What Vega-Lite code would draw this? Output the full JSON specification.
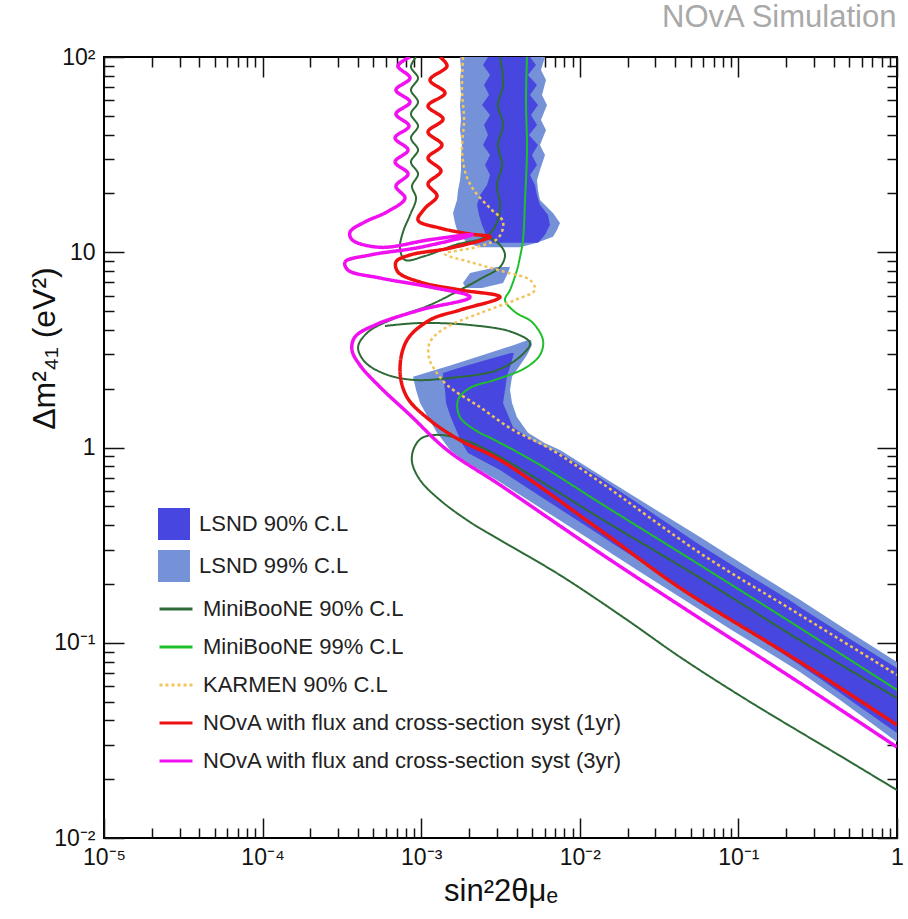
{
"$schema":"https://vega.github.io/schema/vega-lite/v6.json",
"width":793,"height":781,
"autosize":{"type":"none"},
"padding":{"left":104,"top":57,"right":11,"bottom":81},
"background":"#ffffff",
"title":{"text":"NOvA Simulation","anchor":"end","fontSize":31,"font":"Liberation Sans","fontWeight":"normal","color":"#a9a9a9","offset":12,"dx":-7},
"config":{
 "view":{"stroke":"#000","strokeWidth":2},
 "axis":{"grid":false,"domain":false,"zindex":1,"labelFont":"Liberation Sans","titleFont":"Liberation Sans","labelColor":"#111","titleColor":"#111","tickColor":"#111","tickWidth":1.5,"labelFontSize":23,"titleFontWeight":"normal","labelOverlap":false,"labelFlush":false,"labelBound":false},
 "legend":{"labelFont":"Liberation Sans","labelFontSize":22,"labelColor":"#222","padding":0,"labelLimit":0}
},
"datasets":{
"bands":[
{"s":"LSND 99% C.L","g":"A","y":100,"xl":1.757e-3,"xr":6.034e-3},
{"s":"LSND 99% C.L","g":"A","y":85.8,"xl":1.782e-3,"xr":5.692e-3},
{"s":"LSND 99% C.L","g":"A","y":76.2,"xl":1.757e-3,"xr":6.122e-3},
{"s":"LSND 99% C.L","g":"A","y":63.9,"xl":1.782e-3,"xr":5.776e-3},
{"s":"LSND 99% C.L","g":"A","y":56.8,"xl":1.757e-3,"xr":6.212e-3},
{"s":"LSND 99% C.L","g":"A","y":47.6,"xl":1.782e-3,"xr":5.692e-3},
{"s":"LSND 99% C.L","g":"A","y":42.3,"xl":1.757e-3,"xr":6.122e-3},
{"s":"LSND 99% C.L","g":"A","y":35.4,"xl":1.808e-3,"xr":5.610e-3},
{"s":"LSND 99% C.L","g":"A","y":31.5,"xl":1.782e-3,"xr":6.034e-3},
{"s":"LSND 99% C.L","g":"A","y":26.4,"xl":1.782e-3,"xr":5.610e-3},
{"s":"LSND 99% C.L","g":"A","y":23.4,"xl":1.757e-3,"xr":5.372e-3},
{"s":"LSND 99% C.L","g":"A","y":20.8,"xl":1.706e-3,"xr":5.451e-3},
{"s":"LSND 99% C.L","g":"A","y":18.5,"xl":1.682e-3,"xr":5.610e-3},
{"s":"LSND 99% C.L","g":"A","y":15.9,"xl":1.587e-3,"xr":6.776e-3},
{"s":"LSND 99% C.L","g":"A","y":14.1,"xl":1.634e-3,"xr":7.503e-3},
{"s":"LSND 99% C.L","g":"A","y":13.0,"xl":1.682e-3,"xr":7.181e-3},
{"s":"LSND 99% C.L","g":"A","y":12.0,"xl":1.808e-3,"xr":6.776e-3},
{"s":"LSND 99% C.L","g":"A","y":11.2,"xl":1.945e-3,"xr":5.372e-3},
{"s":"LSND 99% C.L","g":"A","y":10.6,"xl":2.348e-3,"xr":4.198e-3},
{"s":"LSND 99% C.L","g":"B","y":8.40,"xl":3.006e-3,"xr":3.631e-3},
{"s":"LSND 99% C.L","g":"B","y":7.83,"xl":2.031e-3,"xr":3.526e-3},
{"s":"LSND 99% C.L","g":"B","y":6.96,"xl":1.834e-3,"xr":3.280e-3},
{"s":"LSND 99% C.L","g":"B","y":6.56,"xl":1.917e-3,"xr":2.418e-3},
{"s":"LSND 99% C.L","g":"C","y":3.55,"xl":4.714e-3,"xr":4.924e-3},
{"s":"LSND 99% C.L","g":"C","y":3.35,"xl":3.848e-3,"xr":4.995e-3},
{"s":"LSND 99% C.L","g":"C","y":2.98,"xl":2.453e-3,"xr":4.646e-3},
{"s":"LSND 99% C.L","g":"C","y":2.64,"xl":1.541e-3,"xr":4.198e-3},
{"s":"LSND 99% C.L","g":"C","y":2.30,"xl":8.88e-4,"xr":3.738e-3},
{"s":"LSND 99% C.L","g":"C","y":1.97,"xl":9.28e-4,"xr":3.631e-3},
{"s":"LSND 99% C.L","g":"C","y":1.69,"xl":9.83e-4,"xr":3.738e-3},
{"s":"LSND 99% C.L","g":"C","y":1.43,"xl":1.104e-3,"xr":4.018e-3},
{"s":"LSND 99% C.L","g":"C","y":1.19,"xl":1.258e-3,"xr":4.714e-3},
{"s":"LSND 99% C.L","g":"C","y":1.05,"xl":1.413e-3,"xr":6.034e-3},
{"s":"LSND 99% C.L","g":"C","y":0.971,"xl":1.519e-3,"xr":7.503e-3},
{"s":"LSND 99% C.L","g":"C","y":0.863,"xl":1.834e-3,"xr":9.46e-3},
{"s":"LSND 99% C.L","g":"C","y":0.666,"xl":3.140e-3,"xr":1.573e-2},
{"s":"LSND 99% C.L","g":"C","y":0.538,"xl":4.714e-3,"xr":2.397e-2},
{"s":"LSND 99% C.L","g":"C","y":0.348,"xl":1.094e-2,"xr":5.727e-2},
{"s":"LSND 99% C.L","g":"C","y":0.236,"xl":2.295e-2,"xr":0.1218},
{"s":"LSND 99% C.L","g":"C","y":0.166,"xl":4.539e-2,"xr":0.2445},
{"s":"LSND 99% C.L","g":"C","y":0.116,"xl":9.11e-2,"xr":0.4838},
{"s":"LSND 99% C.L","g":"C","y":0.0797,"xl":0.1939,"xr":1},
{"s":"LSND 99% C.L","g":"C","y":0.0708,"xl":0.2445,"xr":2},
{"s":"LSND 99% C.L","g":"C","y":0.0509,"xl":0.4371,"xr":2},
{"s":"LSND 99% C.L","g":"C","y":0.0310,"xl":1,"xr":2},
{"s":"LSND 90% C.L","g":"A","y":100,"xl":2.638e-3,"xr":4.853e-3},
{"s":"LSND 90% C.L","g":"A","y":91.0,"xl":2.453e-3,"xr":5.294e-3},
{"s":"LSND 90% C.L","g":"A","y":80.9,"xl":2.716e-3,"xr":4.714e-3},
{"s":"LSND 90% C.L","g":"A","y":71.9,"xl":2.489e-3,"xr":5.372e-3},
{"s":"LSND 90% C.L","g":"A","y":63.9,"xl":2.677e-3,"xr":4.853e-3},
{"s":"LSND 90% C.L","g":"A","y":56.8,"xl":2.418e-3,"xr":5.451e-3},
{"s":"LSND 90% C.L","g":"A","y":50.5,"xl":2.716e-3,"xr":4.924e-3},
{"s":"LSND 90% C.L","g":"A","y":44.9,"xl":2.489e-3,"xr":5.372e-3},
{"s":"LSND 90% C.L","g":"A","y":39.8,"xl":2.638e-3,"xr":4.783e-3},
{"s":"LSND 90% C.L","g":"A","y":35.4,"xl":2.453e-3,"xr":5.451e-3},
{"s":"LSND 90% C.L","g":"A","y":31.5,"xl":2.716e-3,"xr":4.995e-3},
{"s":"LSND 90% C.L","g":"A","y":28.0,"xl":2.526e-3,"xr":5.372e-3},
{"s":"LSND 90% C.L","g":"A","y":24.9,"xl":2.716e-3,"xr":4.853e-3},
{"s":"LSND 90% C.L","g":"A","y":22.1,"xl":2.600e-3,"xr":5.218e-3},
{"s":"LSND 90% C.L","g":"A","y":19.6,"xl":2.348e-3,"xr":5.372e-3},
{"s":"LSND 90% C.L","g":"A","y":17.5,"xl":2.248e-3,"xr":5.610e-3},
{"s":"LSND 90% C.L","g":"A","y":15.5,"xl":2.314e-3,"xr":6.303e-3},
{"s":"LSND 90% C.L","g":"A","y":13.8,"xl":2.418e-3,"xr":6.488e-3},
{"s":"LSND 90% C.L","g":"A","y":12.3,"xl":2.563e-3,"xr":6.034e-3},
{"s":"LSND 90% C.L","g":"A","y":11.2,"xl":2.795e-3,"xr":5.451e-3},
{"s":"LSND 90% C.L","g":"C","y":3.05,"xl":3.684e-3,"xr":3.848e-3},
{"s":"LSND 90% C.L","g":"C","y":2.81,"xl":2.563e-3,"xr":3.738e-3},
{"s":"LSND 90% C.L","g":"C","y":2.58,"xl":1.782e-3,"xr":3.631e-3},
{"s":"LSND 90% C.L","g":"C","y":2.41,"xl":1.373e-3,"xr":3.526e-3},
{"s":"LSND 90% C.L","g":"C","y":2.30,"xl":1.373e-3,"xr":3.475e-3},
{"s":"LSND 90% C.L","g":"C","y":1.97,"xl":1.413e-3,"xr":3.377e-3},
{"s":"LSND 90% C.L","g":"C","y":1.69,"xl":1.434e-3,"xr":3.280e-3},
{"s":"LSND 90% C.L","g":"C","y":1.467,"xl":1.519e-3,"xr":3.526e-3},
{"s":"LSND 90% C.L","g":"C","y":1.27,"xl":1.634e-3,"xr":3.793e-3},
{"s":"LSND 90% C.L","g":"C","y":1.05,"xl":1.808e-3,"xr":5.372e-3},
{"s":"LSND 90% C.L","g":"C","y":0.937,"xl":1.973e-3,"xr":7.503e-3},
{"s":"LSND 90% C.L","g":"C","y":0.767,"xl":3.140e-3,"xr":1.110e-2},
{"s":"LSND 90% C.L","g":"C","y":0.698,"xl":3.738e-3,"xr":1.341e-2},
{"s":"LSND 90% C.L","g":"C","y":0.538,"xl":6.122e-3,"xr":2.165e-2},
{"s":"LSND 90% C.L","g":"C","y":0.356,"xl":1.341e-2,"xr":4.606e-2},
{"s":"LSND 90% C.L","g":"C","y":0.317,"xl":1.667e-2,"xr":5.727e-2},
{"s":"LSND 90% C.L","g":"C","y":0.236,"xl":2.937e-2,"xr":0.1023},
{"s":"LSND 90% C.L","g":"C","y":0.166,"xl":5.727e-2,"xr":0.2084},
{"s":"LSND 90% C.L","g":"C","y":0.152,"xl":6.72e-2,"xr":0.2445},
{"s":"LSND 90% C.L","g":"C","y":0.103,"xl":0.1409,"xr":0.5203},
{"s":"LSND 90% C.L","g":"C","y":0.0769,"xl":0.2445,"xr":0.9301},
{"s":"LSND 90% C.L","g":"C","y":0.0742,"xl":0.2592,"xr":1},
{"s":"LSND 90% C.L","g":"C","y":0.0645,"xl":0.3366,"xr":2},
{"s":"LSND 90% C.L","g":"C","y":0.0509,"xl":0.5053,"xr":2},
{"s":"LSND 90% C.L","g":"C","y":0.0345,"xl":1,"xr":2}
],
"lines":[
{"s":"MiniBooNE 90% C.L","p":"d1","i":1,"x":9.28e-4,"y":100},
{"s":"MiniBooNE 90% C.L","p":"d1","i":2,"x":8.62e-4,"y":88.9},
{"s":"MiniBooNE 90% C.L","p":"d1","i":3,"x":9.55e-4,"y":78.0},
{"s":"MiniBooNE 90% C.L","p":"d1","i":4,"x":8.62e-4,"y":67.8},
{"s":"MiniBooNE 90% C.L","p":"d1","i":5,"x":9.55e-4,"y":58.8},
{"s":"MiniBooNE 90% C.L","p":"d1","i":6,"x":8.62e-4,"y":51.1},
{"s":"MiniBooNE 90% C.L","p":"d1","i":7,"x":9.55e-4,"y":44.3},
{"s":"MiniBooNE 90% C.L","p":"d1","i":8,"x":8.62e-4,"y":38.5},
{"s":"MiniBooNE 90% C.L","p":"d1","i":9,"x":9.55e-4,"y":33.4},
{"s":"MiniBooNE 90% C.L","p":"d1","i":10,"x":8.62e-4,"y":29.0},
{"s":"MiniBooNE 90% C.L","p":"d1","i":11,"x":9.55e-4,"y":25.2},
{"s":"MiniBooNE 90% C.L","p":"d1","i":12,"x":8.75e-4,"y":21.8},
{"s":"MiniBooNE 90% C.L","p":"d1","i":13,"x":9.28e-4,"y":18.9},
{"s":"MiniBooNE 90% C.L","p":"d1","i":14,"x":8.50e-4,"y":15.5},
{"s":"MiniBooNE 90% C.L","p":"d1","i":15,"x":7.68e-4,"y":12.7},
{"s":"MiniBooNE 90% C.L","p":"d1","i":16,"x":7.35e-4,"y":10.5},
{"s":"MiniBooNE 90% C.L","p":"d1","i":17,"x":7.90e-4,"y":9.13},
{"s":"MiniBooNE 90% C.L","p":"d1","i":18,"x":1.057e-3,"y":9.57},
{"s":"MiniBooNE 90% C.L","p":"d1","i":19,"x":1.634e-3,"y":10.9},
{"s":"MiniBooNE 90% C.L","p":"d1","i":20,"x":2.600e-3,"y":12.1},
{"s":"MiniBooNE 90% C.L","p":"d1","i":21,"x":3.006e-3,"y":14.3},
{"s":"MiniBooNE 90% C.L","p":"d1","i":22,"x":3.140e-3,"y":17.5},
{"s":"MiniBooNE 90% C.L","p":"d1","i":23,"x":3.006e-3,"y":22.1},
{"s":"MiniBooNE 90% C.L","p":"d1","i":24,"x":3.232e-3,"y":28.0},
{"s":"MiniBooNE 90% C.L","p":"d1","i":25,"x":3.050e-3,"y":35.4},
{"s":"MiniBooNE 90% C.L","p":"d1","i":26,"x":3.280e-3,"y":44.9},
{"s":"MiniBooNE 90% C.L","p":"d1","i":27,"x":3.050e-3,"y":56.8},
{"s":"MiniBooNE 90% C.L","p":"d1","i":28,"x":3.280e-3,"y":71.9},
{"s":"MiniBooNE 90% C.L","p":"d1","i":29,"x":3.140e-3,"y":100},
{"s":"MiniBooNE 90% C.L","p":"d2","i":1,"x":2.600e-3,"y":12.1},
{"s":"MiniBooNE 90% C.L","p":"d2","i":2,"x":3.140e-3,"y":10.9},
{"s":"MiniBooNE 90% C.L","p":"d2","i":3,"x":3.377e-3,"y":9.68},
{"s":"MiniBooNE 90% C.L","p":"d2","i":4,"x":3.140e-3,"y":8.40},
{"s":"MiniBooNE 90% C.L","p":"d2","i":5,"x":2.418e-3,"y":7.38},
{"s":"MiniBooNE 90% C.L","p":"d2","i":6,"x":1.757e-3,"y":6.41},
{"s":"MiniBooNE 90% C.L","p":"d2","i":7,"x":1.136e-3,"y":5.37},
{"s":"MiniBooNE 90% C.L","p":"d2","i":8,"x":6.84e-4,"y":4.60},
{"s":"MiniBooNE 90% C.L","p":"d2","i":9,"x":4.62e-4,"y":3.90},
{"s":"MiniBooNE 90% C.L","p":"d2","i":10,"x":4.00e-4,"y":3.27},
{"s":"MiniBooNE 90% C.L","p":"d2","i":11,"x":4.42e-4,"y":2.74},
{"s":"MiniBooNE 90% C.L","p":"d2","i":12,"x":5.91e-4,"y":2.38},
{"s":"MiniBooNE 90% C.L","p":"d2","i":13,"x":8.88e-4,"y":2.22},
{"s":"MiniBooNE 90% C.L","p":"d2","i":14,"x":1.519e-3,"y":2.27},
{"s":"MiniBooNE 90% C.L","p":"d2","i":15,"x":3.006e-3,"y":2.49},
{"s":"MiniBooNE 90% C.L","p":"d2","i":16,"x":4.322e-3,"y":2.98},
{"s":"MiniBooNE 90% C.L","p":"d2","i":17,"x":4.853e-3,"y":3.43},
{"s":"MiniBooNE 90% C.L","p":"d2","i":18,"x":3.738e-3,"y":3.90},
{"s":"MiniBooNE 90% C.L","p":"d2","i":19,"x":2.031e-3,"y":4.24},
{"s":"MiniBooNE 90% C.L","p":"d2","i":20,"x":9.83e-4,"y":4.34},
{"s":"MiniBooNE 90% C.L","p":"d2","i":21,"x":5.91e-4,"y":4.19},
{"s":"MiniBooNE 90% C.L","p":"d3","i":1,"x":1,"y":0.0521},
{"s":"MiniBooNE 90% C.L","p":"d3","i":2,"x":0.2445,"y":0.103},
{"s":"MiniBooNE 90% C.L","p":"d3","i":3,"x":5.727e-2,"y":0.215},
{"s":"MiniBooNE 90% C.L","p":"d3","i":4,"x":1.341e-2,"y":0.435},
{"s":"MiniBooNE 90% C.L","p":"d3","i":5,"x":6.488e-3,"y":0.628},
{"s":"MiniBooNE 90% C.L","p":"d3","i":6,"x":3.140e-3,"y":0.894},
{"s":"MiniBooNE 90% C.L","p":"d3","i":7,"x":2.031e-3,"y":1.067},
{"s":"MiniBooNE 90% C.L","p":"d3","i":8,"x":1.314e-3,"y":1.16},
{"s":"MiniBooNE 90% C.L","p":"d3","i":9,"x":1.012e-3,"y":1.12},
{"s":"MiniBooNE 90% C.L","p":"d3","i":10,"x":9.01e-4,"y":0.994},
{"s":"MiniBooNE 90% C.L","p":"d3","i":11,"x":8.75e-4,"y":0.843},
{"s":"MiniBooNE 90% C.L","p":"d3","i":12,"x":9.83e-4,"y":0.682},
{"s":"MiniBooNE 90% C.L","p":"d3","i":13,"x":1.314e-3,"y":0.538},
{"s":"MiniBooNE 90% C.L","p":"d3","i":14,"x":2.031e-3,"y":0.415},
{"s":"MiniBooNE 90% C.L","p":"d3","i":15,"x":3.140e-3,"y":0.336},
{"s":"MiniBooNE 90% C.L","p":"d3","i":16,"x":7.503e-3,"y":0.222},
{"s":"MiniBooNE 90% C.L","p":"d3","i":17,"x":1.985e-2,"y":0.131},
{"s":"MiniBooNE 90% C.L","p":"d3","i":18,"x":4.282e-2,"y":0.0845},
{"s":"MiniBooNE 90% C.L","p":"d3","i":19,"x":0.1133,"y":0.0509},
{"s":"MiniBooNE 90% C.L","p":"d3","i":20,"x":0.4838,"y":0.0251},
{"s":"MiniBooNE 90% C.L","p":"d3","i":21,"x":1,"y":0.0176},
{"s":"MiniBooNE 99% C.L","p":"g","i":1,"x":4.646e-3,"y":100},
{"s":"MiniBooNE 99% C.L","p":"g","i":2,"x":4.579e-3,"y":60.2},
{"s":"MiniBooNE 99% C.L","p":"g","i":3,"x":4.646e-3,"y":33.4},
{"s":"MiniBooNE 99% C.L","p":"g","i":4,"x":4.514e-3,"y":18.5},
{"s":"MiniBooNE 99% C.L","p":"g","i":5,"x":4.385e-3,"y":11.6},
{"s":"MiniBooNE 99% C.L","p":"g","i":6,"x":4.198e-3,"y":9.46},
{"s":"MiniBooNE 99% C.L","p":"g","i":7,"x":4.018e-3,"y":8.11},
{"s":"MiniBooNE 99% C.L","p":"g","i":8,"x":3.631e-3,"y":6.41},
{"s":"MiniBooNE 99% C.L","p":"g","i":9,"x":3.377e-3,"y":5.69},
{"s":"MiniBooNE 99% C.L","p":"g","i":10,"x":3.904e-3,"y":4.94},
{"s":"MiniBooNE 99% C.L","p":"g","i":11,"x":4.995e-3,"y":4.39},
{"s":"MiniBooNE 99% C.L","p":"g","i":12,"x":5.861e-3,"y":3.55},
{"s":"MiniBooNE 99% C.L","p":"g","i":13,"x":5.610e-3,"y":2.98},
{"s":"MiniBooNE 99% C.L","p":"g","i":14,"x":4.514e-3,"y":2.55},
{"s":"MiniBooNE 99% C.L","p":"g","i":15,"x":2.920e-3,"y":2.22},
{"s":"MiniBooNE 99% C.L","p":"g","i":16,"x":2.031e-3,"y":2.02},
{"s":"MiniBooNE 99% C.L","p":"g","i":17,"x":1.706e-3,"y":1.75},
{"s":"MiniBooNE 99% C.L","p":"g","i":18,"x":1.757e-3,"y":1.43},
{"s":"MiniBooNE 99% C.L","p":"g","i":19,"x":2.184e-3,"y":1.23},
{"s":"MiniBooNE 99% C.L","p":"g","i":20,"x":2.920e-3,"y":1.09},
{"s":"MiniBooNE 99% C.L","p":"g","i":21,"x":5.610e-3,"y":0.814},
{"s":"MiniBooNE 99% C.L","p":"g","i":22,"x":1.341e-2,"y":0.520},
{"s":"MiniBooNE 99% C.L","p":"g","i":23,"x":5.727e-2,"y":0.250},
{"s":"MiniBooNE 99% C.L","p":"g","i":24,"x":0.2445,"y":0.119},
{"s":"MiniBooNE 99% C.L","p":"g","i":25,"x":1,"y":0.0573},
{"s":"KARMEN 90% C.L","p":"k","i":1,"x":1.834e-3,"y":100},
{"s":"KARMEN 90% C.L","p":"k","i":2,"x":1.808e-3,"y":67.8},
{"s":"KARMEN 90% C.L","p":"k","i":3,"x":1.862e-3,"y":47.6},
{"s":"KARMEN 90% C.L","p":"k","i":4,"x":1.808e-3,"y":33.4},
{"s":"KARMEN 90% C.L","p":"k","i":5,"x":1.917e-3,"y":24.9},
{"s":"KARMEN 90% C.L","p":"k","i":6,"x":2.184e-3,"y":20.4},
{"s":"KARMEN 90% C.L","p":"k","i":7,"x":2.716e-3,"y":16.8},
{"s":"KARMEN 90% C.L","p":"k","i":8,"x":3.280e-3,"y":14.3},
{"s":"KARMEN 90% C.L","p":"k","i":9,"x":3.050e-3,"y":11.8},
{"s":"KARMEN 90% C.L","p":"k","i":10,"x":2.184e-3,"y":10.6},
{"s":"KARMEN 90% C.L","p":"k","i":11,"x":1.413e-3,"y":9.80},
{"s":"KARMEN 90% C.L","p":"k","i":12,"x":2.031e-3,"y":8.92},
{"s":"KARMEN 90% C.L","p":"k","i":13,"x":3.377e-3,"y":7.92},
{"s":"KARMEN 90% C.L","p":"k","i":14,"x":4.853e-3,"y":7.21},
{"s":"KARMEN 90% C.L","p":"k","i":15,"x":5.218e-3,"y":6.41},
{"s":"KARMEN 90% C.L","p":"k","i":16,"x":3.904e-3,"y":5.69},
{"s":"KARMEN 90% C.L","p":"k","i":17,"x":2.348e-3,"y":4.88},
{"s":"KARMEN 90% C.L","p":"k","i":18,"x":1.413e-3,"y":4.09},
{"s":"KARMEN 90% C.L","p":"k","i":19,"x":1.136e-3,"y":3.47},
{"s":"KARMEN 90% C.L","p":"k","i":20,"x":1.120e-3,"y":2.87},
{"s":"KARMEN 90% C.L","p":"k","i":21,"x":1.222e-3,"y":2.49},
{"s":"KARMEN 90% C.L","p":"k","i":22,"x":1.455e-3,"y":2.09},
{"s":"KARMEN 90% C.L","p":"k","i":23,"x":2.348e-3,"y":1.61},
{"s":"KARMEN 90% C.L","p":"k","i":24,"x":3.793e-3,"y":1.23},
{"s":"KARMEN 90% C.L","p":"k","i":25,"x":6.212e-3,"y":1.006},
{"s":"KARMEN 90% C.L","p":"k","i":26,"x":1.341e-2,"y":0.666},
{"s":"KARMEN 90% C.L","p":"k","i":27,"x":5.727e-2,"y":0.288},
{"s":"KARMEN 90% C.L","p":"k","i":28,"x":0.2445,"y":0.139},
{"s":"KARMEN 90% C.L","p":"k","i":29,"x":1,"y":0.0684},
{"s":"NOvA with flux and cross-section syst (1yr)","p":"r","i":1,"x":1.314e-3,"y":100},
{"s":"NOvA with flux and cross-section syst (1yr)","p":"r","i":2,"x":1.455e-3,"y":89.9},
{"s":"NOvA with flux and cross-section syst (1yr)","p":"r","i":3,"x":1.136e-3,"y":76.2},
{"s":"NOvA with flux and cross-section syst (1yr)","p":"r","i":4,"x":1.413e-3,"y":65.4},
{"s":"NOvA with flux and cross-section syst (1yr)","p":"r","i":5,"x":1.104e-3,"y":56.1},
{"s":"NOvA with flux and cross-section syst (1yr)","p":"r","i":6,"x":1.373e-3,"y":48.1},
{"s":"NOvA with flux and cross-section syst (1yr)","p":"r","i":7,"x":1.104e-3,"y":41.3},
{"s":"NOvA with flux and cross-section syst (1yr)","p":"r","i":8,"x":1.352e-3,"y":35.4},
{"s":"NOvA with flux and cross-section syst (1yr)","p":"r","i":9,"x":1.104e-3,"y":30.4},
{"s":"NOvA with flux and cross-section syst (1yr)","p":"r","i":10,"x":1.333e-3,"y":26.1},
{"s":"NOvA with flux and cross-section syst (1yr)","p":"r","i":11,"x":1.104e-3,"y":22.4},
{"s":"NOvA with flux and cross-section syst (1yr)","p":"r","i":12,"x":1.258e-3,"y":19.4},
{"s":"NOvA with flux and cross-section syst (1yr)","p":"r","i":13,"x":1.057e-3,"y":16.8},
{"s":"NOvA with flux and cross-section syst (1yr)","p":"r","i":14,"x":9.55e-4,"y":14.6},
{"s":"NOvA with flux and cross-section syst (1yr)","p":"r","i":15,"x":1.314e-3,"y":13.3},
{"s":"NOvA with flux and cross-section syst (1yr)","p":"r","i":16,"x":2.031e-3,"y":12.4},
{"s":"NOvA with flux and cross-section syst (1yr)","p":"r","i":17,"x":2.716e-3,"y":12.0},
{"s":"NOvA with flux and cross-section syst (1yr)","p":"r","i":18,"x":1.519e-3,"y":10.5},
{"s":"NOvA with flux and cross-section syst (1yr)","p":"r","i":19,"x":8.50e-4,"y":9.68},
{"s":"NOvA with flux and cross-section syst (1yr)","p":"r","i":20,"x":6.93e-4,"y":8.92},
{"s":"NOvA with flux and cross-section syst (1yr)","p":"r","i":21,"x":7.14e-4,"y":7.92},
{"s":"NOvA with flux and cross-section syst (1yr)","p":"r","i":22,"x":9.83e-4,"y":7.04},
{"s":"NOvA with flux and cross-section syst (1yr)","p":"r","i":23,"x":1.757e-3,"y":6.41},
{"s":"NOvA with flux and cross-section syst (1yr)","p":"r","i":24,"x":3.140e-3,"y":5.90},
{"s":"NOvA with flux and cross-section syst (1yr)","p":"r","i":25,"x":1.757e-3,"y":5.06},
{"s":"NOvA with flux and cross-section syst (1yr)","p":"r","i":26,"x":1.136e-3,"y":4.50},
{"s":"NOvA with flux and cross-section syst (1yr)","p":"r","i":27,"x":8.14e-4,"y":3.55},
{"s":"NOvA with flux and cross-section syst (1yr)","p":"r","i":28,"x":7.35e-4,"y":2.49},
{"s":"NOvA with flux and cross-section syst (1yr)","p":"r","i":29,"x":8.14e-4,"y":1.81},
{"s":"NOvA with flux and cross-section syst (1yr)","p":"r","i":30,"x":1.136e-3,"y":1.38},
{"s":"NOvA with flux and cross-section syst (1yr)","p":"r","i":31,"x":1.757e-3,"y":1.09},
{"s":"NOvA with flux and cross-section syst (1yr)","p":"r","i":32,"x":3.140e-3,"y":0.863},
{"s":"NOvA with flux and cross-section syst (1yr)","p":"r","i":33,"x":1.341e-2,"y":0.378},
{"s":"NOvA with flux and cross-section syst (1yr)","p":"r","i":34,"x":4.282e-2,"y":0.191},
{"s":"NOvA with flux and cross-section syst (1yr)","p":"r","i":35,"x":0.2445,"y":0.0797},
{"s":"NOvA with flux and cross-section syst (1yr)","p":"r","i":36,"x":1,"y":0.0379},
{"s":"NOvA with flux and cross-section syst (3yr)","p":"m","i":1,"x":8.50e-4,"y":100},
{"s":"NOvA with flux and cross-section syst (3yr)","p":"m","i":2,"x":7.14e-4,"y":89.9},
{"s":"NOvA with flux and cross-section syst (3yr)","p":"m","i":3,"x":8.50e-4,"y":78.0},
{"s":"NOvA with flux and cross-section syst (3yr)","p":"m","i":4,"x":6.93e-4,"y":67.8},
{"s":"NOvA with flux and cross-section syst (3yr)","p":"m","i":5,"x":8.50e-4,"y":58.8},
{"s":"NOvA with flux and cross-section syst (3yr)","p":"m","i":6,"x":6.93e-4,"y":51.1},
{"s":"NOvA with flux and cross-section syst (3yr)","p":"m","i":7,"x":8.38e-4,"y":44.3},
{"s":"NOvA with flux and cross-section syst (3yr)","p":"m","i":8,"x":6.84e-4,"y":38.5},
{"s":"NOvA with flux and cross-section syst (3yr)","p":"m","i":9,"x":8.26e-4,"y":33.4},
{"s":"NOvA with flux and cross-section syst (3yr)","p":"m","i":10,"x":6.84e-4,"y":29.0},
{"s":"NOvA with flux and cross-section syst (3yr)","p":"m","i":11,"x":8.26e-4,"y":25.2},
{"s":"NOvA with flux and cross-section syst (3yr)","p":"m","i":12,"x":6.93e-4,"y":21.8},
{"s":"NOvA with flux and cross-section syst (3yr)","p":"m","i":13,"x":7.90e-4,"y":18.9},
{"s":"NOvA with flux and cross-section syst (3yr)","p":"m","i":14,"x":6.09e-4,"y":16.1},
{"s":"NOvA with flux and cross-section syst (3yr)","p":"m","i":15,"x":4.42e-4,"y":14.3},
{"s":"NOvA with flux and cross-section syst (3yr)","p":"m","i":16,"x":3.56e-4,"y":12.7},
{"s":"NOvA with flux and cross-section syst (3yr)","p":"m","i":17,"x":3.66e-4,"y":11.6},
{"s":"NOvA with flux and cross-section syst (3yr)","p":"m","i":18,"x":5.50e-4,"y":10.6},
{"s":"NOvA with flux and cross-section syst (3yr)","p":"m","i":19,"x":1.136e-3,"y":11.6},
{"s":"NOvA with flux and cross-section syst (3yr)","p":"m","i":20,"x":2.091e-3,"y":12.3},
{"s":"NOvA with flux and cross-section syst (3yr)","p":"m","i":21,"x":9.83e-4,"y":10.6},
{"s":"NOvA with flux and cross-section syst (3yr)","p":"m","i":22,"x":4.75e-4,"y":9.68},
{"s":"NOvA with flux and cross-section syst (3yr)","p":"m","i":23,"x":3.31e-4,"y":8.92},
{"s":"NOvA with flux and cross-section syst (3yr)","p":"m","i":24,"x":3.45e-4,"y":8.11},
{"s":"NOvA with flux and cross-section syst (3yr)","p":"m","i":25,"x":5.50e-4,"y":7.38},
{"s":"NOvA with flux and cross-section syst (3yr)","p":"m","i":26,"x":1.136e-3,"y":6.64},
{"s":"NOvA with flux and cross-section syst (3yr)","p":"m","i":27,"x":2.031e-3,"y":5.90},
{"s":"NOvA with flux and cross-section syst (3yr)","p":"m","i":28,"x":9.83e-4,"y":5.06},
{"s":"NOvA with flux and cross-section syst (3yr)","p":"m","i":29,"x":5.11e-4,"y":4.24},
{"s":"NOvA with flux and cross-section syst (3yr)","p":"m","i":30,"x":3.82e-4,"y":3.68},
{"s":"NOvA with flux and cross-section syst (3yr)","p":"m","i":31,"x":3.66e-4,"y":3.16},
{"s":"NOvA with flux and cross-section syst (3yr)","p":"m","i":32,"x":4.11e-4,"y":2.64},
{"s":"NOvA with flux and cross-section syst (3yr)","p":"m","i":33,"x":5.50e-4,"y":2.04},
{"s":"NOvA with flux and cross-section syst (3yr)","p":"m","i":34,"x":8.50e-4,"y":1.467},
{"s":"NOvA with flux and cross-section syst (3yr)","p":"m","i":35,"x":1.455e-3,"y":0.971},
{"s":"NOvA with flux and cross-section syst (3yr)","p":"m","i":36,"x":3.140e-3,"y":0.643},
{"s":"NOvA with flux and cross-section syst (3yr)","p":"m","i":37,"x":1.341e-2,"y":0.288},
{"s":"NOvA with flux and cross-section syst (3yr)","p":"m","i":38,"x":5.727e-2,"y":0.133},
{"s":"NOvA with flux and cross-section syst (3yr)","p":"m","i":39,"x":0.2445,"y":0.0622},
{"s":"NOvA with flux and cross-section syst (3yr)","p":"m","i":40,"x":1,"y":0.0292}
]
},
"layer":[
{"data":{"name":"bands"},"transform":[{"filter":"datum.s === 'LSND 99% C.L'"}],
 "mark":{"type":"area","orient":"horizontal","clip":true,"opacity":1},
 "encoding":{
  "y":{"field":"y","type":"quantitative","scale":{"type":"log","domain":[0.01,100],"nice":false},
   "axis":{"orient":"left","values":[0.01,0.1,1,10,100],"ticks":false,
    "labelExpr":"['10⁻²','10⁻¹','1','10','10²'][round(log(datum.value)/LN10)+2]",
    "labelPadding":9,"title":"Δm²₄₁ (eV²)","titleFontSize":32,"titleX":-50,"titleY":291,"titleAngle":-90,"titleAlign":"center","titleBaseline":"alphabetic"}},
  "x":{"field":"xl","type":"quantitative","scale":{"type":"log","domain":[0.00001,1],"nice":false},
   "axis":{"orient":"bottom","values":[0.00001,0.0001,0.001,0.01,0.1,1],"ticks":false,
    "labelExpr":"['10⁻⁵','10⁻⁴','10⁻³','10⁻²','10⁻¹','1'][round(log(datum.value)/LN10)+5]",
    "labelPadding":8,"title":"sin²2θμₑ","titleFontSize":31,"titleY":62,"titleBaseline":"alphabetic"}},
  "x2":{"field":"xr"},
  "fill":{"field":"s","type":"nominal","scale":{"domain":["LSND 90% C.L","LSND 99% C.L"],"range":["#4747e0","#7592d8"]},
   "legend":{"orient":"none","legendX":54,"legendY":451,"title":null,"symbolType":"square","symbolSize":1024,"symbolStrokeWidth":0,"symbolOpacity":1,"labelOffset":9,"rowPadding":10,"labelFontSize":22,"labelLimit":0}},
  "detail":{"field":"g"}
 }},
{"data":{"name":"bands"},"transform":[{"filter":"datum.s === 'LSND 90% C.L'"}],
 "mark":{"type":"area","orient":"horizontal","clip":true,"opacity":1},
 "encoding":{
  "y":{"field":"y","type":"quantitative","scale":{"type":"log","domain":[0.01,100],"nice":false},
   "axis":{"orient":"right","offset":-793,"values":[0.01,0.02,0.03,0.04,0.05,0.06,0.07,0.08,0.09,0.1,0.2,0.3,0.4,0.5,0.6,0.7,0.8,0.9,1,2,3,4,5,6,7,8,9,10,20,30,40,50,60,70,80,90,100],
    "labels":false,"title":null,
    "tickSize":{"condition":{"test":"abs(log(datum.value)/LN10-round(log(datum.value)/LN10))<0.01","value":20},"value":10}}},
  "x":{"field":"xl","type":"quantitative","scale":{"type":"log","domain":[0.00001,1],"nice":false},
   "axis":{"orient":"top","offset":-781,"values":[0.00001,0.00002,0.00003,0.00004,0.00005,0.00006,0.00007,0.00008,0.00009,0.0001,0.0002,0.0003,0.0004,0.0005,0.0006,0.0007,0.0008,0.0009,0.001,0.002,0.003,0.004,0.005,0.006,0.007,0.008,0.009,0.01,0.02,0.03,0.04,0.05,0.06,0.07,0.08,0.09,0.1,0.2,0.3,0.4,0.5,0.6,0.7,0.8,0.9,1],
    "labels":false,"title":null,
    "tickSize":{"condition":{"test":"abs(log(datum.value)/LN10-round(log(datum.value)/LN10))<0.01","value":20},"value":10}}},
  "x2":{"field":"xr"},
  "fill":{"field":"s","type":"nominal","scale":{"domain":["LSND 90% C.L","LSND 99% C.L"],"range":["#4747e0","#7592d8"]},
   "legend":{"orient":"none","legendX":54,"legendY":451,"title":null,"symbolType":"square","symbolSize":1024,"symbolStrokeWidth":0,"symbolOpacity":1,"labelOffset":9,"rowPadding":10,"labelFontSize":22,"labelLimit":0}},
  "detail":{"field":"g"}
 }},
{"data":{"name":"lines"},"transform":[{"filter":"indexof(datum.s,'MiniBooNE') === 0"}],
 "mark":{"type":"line","clip":true,"strokeWidth":2,"interpolate":"catmull-rom"},
 "encoding":{
  "x":{"field":"x","type":"quantitative","scale":{"type":"log","domain":[0.00001,1],"nice":false},
   "axis":{"orient":"bottom","offset":-781,"values":[0.00001,0.00002,0.00003,0.00004,0.00005,0.00006,0.00007,0.00008,0.00009,0.0001,0.0002,0.0003,0.0004,0.0005,0.0006,0.0007,0.0008,0.0009,0.001,0.002,0.003,0.004,0.005,0.006,0.007,0.008,0.009,0.01,0.02,0.03,0.04,0.05,0.06,0.07,0.08,0.09,0.1,0.2,0.3,0.4,0.5,0.6,0.7,0.8,0.9,1],
    "labels":false,"title":null,
    "tickSize":{"condition":{"test":"abs(log(datum.value)/LN10-round(log(datum.value)/LN10))<0.01","value":20},"value":10}}},
  "y":{"field":"y","type":"quantitative","scale":{"type":"log","domain":[0.01,100],"nice":false},
   "axis":{"orient":"left","offset":-793,"values":[0.01,0.02,0.03,0.04,0.05,0.06,0.07,0.08,0.09,0.1,0.2,0.3,0.4,0.5,0.6,0.7,0.8,0.9,1,2,3,4,5,6,7,8,9,10,20,30,40,50,60,70,80,90,100],
    "labels":false,"title":null,
    "tickSize":{"condition":{"test":"abs(log(datum.value)/LN10-round(log(datum.value)/LN10))<0.01","value":20},"value":10}}},
  "stroke":{"field":"s","type":"nominal","scale":{"domain":["MiniBooNE 90% C.L","MiniBooNE 99% C.L","KARMEN 90% C.L","NOvA with flux and cross-section syst (1yr)","NOvA with flux and cross-section syst (3yr)"],"range":["#2d6a36","#1fbf2a","#f2c45a","#ee1111","#f010f0"]},
   "legend":{"orient":"none","legendX":54,"legendY":534,"title":null,"symbolType":"stroke","symbolSize":1089,"symbolStrokeWidth":3,"labelOffset":9,"rowPadding":9,"labelFontSize":22,"labelLimit":0}},
  "strokeDash":{"field":"s","type":"nominal","scale":{"domain":["MiniBooNE 90% C.L","MiniBooNE 99% C.L","KARMEN 90% C.L","NOvA with flux and cross-section syst (1yr)","NOvA with flux and cross-section syst (3yr)"],"range":[[1,0],[1,0],[3,3],[1,0],[1,0]]},
   "legend":{"orient":"none","legendX":54,"legendY":534,"title":null,"symbolType":"stroke","symbolSize":1089,"symbolStrokeWidth":3,"labelOffset":9,"rowPadding":9,"labelFontSize":22,"labelLimit":0}},
  "detail":{"field":"p"},
  "order":{"field":"i","type":"quantitative"}
 }},
{"data":{"name":"lines"},"transform":[{"filter":"indexof(datum.s,'KARMEN') === 0"}],
 "mark":{"type":"line","clip":true,"strokeWidth":2.5,"interpolate":"catmull-rom"},
 "encoding":{
  "x":{"field":"x","type":"quantitative","scale":{"type":"log","domain":[0.00001,1],"nice":false},"axis":null},
  "y":{"field":"y","type":"quantitative","scale":{"type":"log","domain":[0.01,100],"nice":false},"axis":null},
  "stroke":{"field":"s","type":"nominal","scale":{"domain":["MiniBooNE 90% C.L","MiniBooNE 99% C.L","KARMEN 90% C.L","NOvA with flux and cross-section syst (1yr)","NOvA with flux and cross-section syst (3yr)"],"range":["#2d6a36","#1fbf2a","#f2c45a","#ee1111","#f010f0"]},
   "legend":{"orient":"none","legendX":54,"legendY":534,"title":null,"symbolType":"stroke","symbolSize":1089,"symbolStrokeWidth":3,"labelOffset":9,"rowPadding":9,"labelFontSize":22,"labelLimit":0}},
  "strokeDash":{"field":"s","type":"nominal","scale":{"domain":["MiniBooNE 90% C.L","MiniBooNE 99% C.L","KARMEN 90% C.L","NOvA with flux and cross-section syst (1yr)","NOvA with flux and cross-section syst (3yr)"],"range":[[1,0],[1,0],[3,3],[1,0],[1,0]]},
   "legend":{"orient":"none","legendX":54,"legendY":534,"title":null,"symbolType":"stroke","symbolSize":1089,"symbolStrokeWidth":3,"labelOffset":9,"rowPadding":9,"labelFontSize":22,"labelLimit":0}},
  "detail":{"field":"p"},
  "order":{"field":"i","type":"quantitative"}
 }},
{"data":{"name":"lines"},"transform":[{"filter":"indexof(datum.s,'NOvA') === 0"}],
 "mark":{"type":"line","clip":true,"strokeWidth":3.5,"interpolate":"catmull-rom"},
 "encoding":{
  "x":{"field":"x","type":"quantitative","scale":{"type":"log","domain":[0.00001,1],"nice":false},"axis":null},
  "y":{"field":"y","type":"quantitative","scale":{"type":"log","domain":[0.01,100],"nice":false},"axis":null},
  "stroke":{"field":"s","type":"nominal","scale":{"domain":["MiniBooNE 90% C.L","MiniBooNE 99% C.L","KARMEN 90% C.L","NOvA with flux and cross-section syst (1yr)","NOvA with flux and cross-section syst (3yr)"],"range":["#2d6a36","#1fbf2a","#f2c45a","#ee1111","#f010f0"]},
   "legend":{"orient":"none","legendX":54,"legendY":534,"title":null,"symbolType":"stroke","symbolSize":1089,"symbolStrokeWidth":3,"labelOffset":9,"rowPadding":9,"labelFontSize":22,"labelLimit":0}},
  "strokeDash":{"field":"s","type":"nominal","scale":{"domain":["MiniBooNE 90% C.L","MiniBooNE 99% C.L","KARMEN 90% C.L","NOvA with flux and cross-section syst (1yr)","NOvA with flux and cross-section syst (3yr)"],"range":[[1,0],[1,0],[3,3],[1,0],[1,0]]},
   "legend":{"orient":"none","legendX":54,"legendY":534,"title":null,"symbolType":"stroke","symbolSize":1089,"symbolStrokeWidth":3,"labelOffset":9,"rowPadding":9,"labelFontSize":22,"labelLimit":0}},
  "detail":{"field":"p"},
  "order":{"field":"i","type":"quantitative"}
 }}
],
"resolve":{"axis":{"x":"independent","y":"independent"}}
}
